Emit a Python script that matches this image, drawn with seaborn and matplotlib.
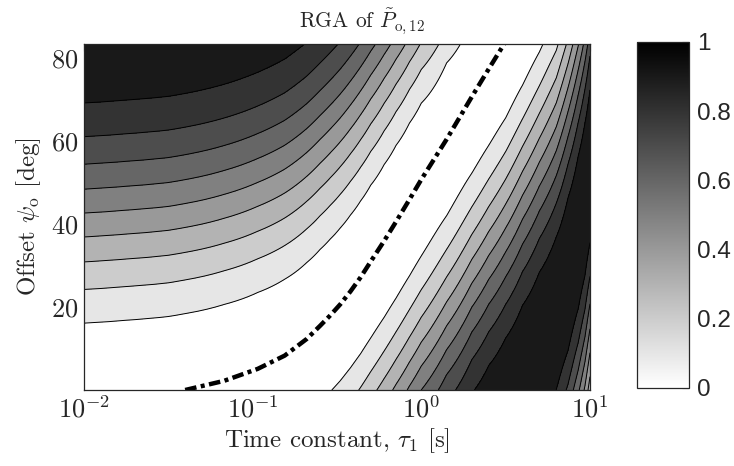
import numpy as np
import matplotlib
matplotlib.use("Agg")
import matplotlib.pyplot as plt
import seaborn as sns
from matplotlib.cm import ScalarMappable
from matplotlib.colors import Normalize

log_tau = [-2.0, -1.75, -1.5, -1.4, -1.17, -0.97, -0.81, -0.68, -0.6, -0.54,
           -0.48, -0.42, -0.36, -0.3, -0.22, -0.15, -0.07, 0.0, 0.15, 0.3,
           0.4, 0.5, 0.6, 0.7, 0.8, 0.87, 0.93, 0.97, 1.0]
# phase shift of the RGA pattern [deg]; the RGA is zero where psi_o = -shift
shift_deg = [2.3, 1.6, 0.7, 0.0, -2.2, -5.1, -8.3, -12.3, -15.5, -18.0,
             -20.7, -23.8, -27.2, -31.0, -36.0, -40.6, -46.0, -50.8, -60.5, -70.8,
             -77.5, -84.1, -92.0, -100.0, -108.5, -118.0, -128.0, -136.0, -144.0]
psi_max = 83.5
cbar_ticks = [0, 0.2, 0.4, 0.6, 0.8, 1]
cbar_labels = ["0", "0.2", "0.4", "0.6", "0.8", "1"]

tau = 10.0 ** np.array(log_tau)
shift = np.array(shift_deg)
psi = np.linspace(0, psi_max, 168)
rga = np.sin(np.radians(psi[:, None] + shift[None, :])) ** 2

sns.set_style("white")
plt.rcParams["font.family"] = ["cmr10", "DejaVu Serif"]
plt.rcParams["mathtext.fontset"] = "cm"
plt.rcParams["axes.formatter.use_mathtext"] = True
plt.rcParams["axes.unicode_minus"] = False

fig = plt.figure(figsize=(7.34, 4.66), dpi=100)
ax = fig.add_axes([0.1144, 0.1631, 0.6894, 0.7425])

levels = np.round(np.arange(0, 1.01, 0.1), 2)
fill_cols = [str(1 - l) for l in levels[:-1]]  # matlab style: band coloured by its lower level
ax.contourf(tau, psi, rga, levels=levels, colors=fill_cols)
ax.contour(tau, psi, rga, levels=levels[1:-1], colors="k", linewidths=0.7)

# zero-RGA line, only where the offset is non-negative
on = shift <= 0
sns.lineplot(x=tau[on], y=-shift[on], color="k", lw=3.2, ax=ax)
ax.lines[-1].set_dashes([2.6, 1.0, 0.9, 1.0])

ax.set_xscale("log")
ax.set_xlim(1e-2, 1e1)
ax.set_ylim(0, psi_max)
ax.set_yticks([20, 40, 60, 80])
ax.minorticks_off()
ax.tick_params(direction="in", top=True, right=True, length=5, width=0.8,
               color="0.15", labelsize=19, pad=4)
for s in ax.spines.values():
    s.set_color("0.15")
    s.set_linewidth(0.9)
    s.set_visible(True)

ax.set_title(r"RGA of $\tilde{P}_{\mathrm{o,12}}$", fontsize=15.5, pad=12, x=0.55)
ax.set_xlabel(r"Time constant, $\tau_1$ [s]", fontsize=18, labelpad=3)
ax.set_ylabel(r"Offset $\psi_{\mathrm{o}}$ [deg]", fontsize=18, labelpad=6)

cax = fig.add_axes([0.8678, 0.1674, 0.0708, 0.7425])
cb = fig.colorbar(ScalarMappable(norm=Normalize(0, 1), cmap="gray_r"), cax=cax)
cb.set_ticks(cbar_ticks)
cb.set_ticklabels(cbar_labels)
cb.outline.set_edgecolor("0.15")
cb.outline.set_linewidth(0.9)
cax.tick_params(direction="in", length=5, width=0.8, color="0.15", pad=6)
for t in cax.get_yticklabels():
    t.set_family(["Liberation Sans", "DejaVu Sans"])
    t.set_fontsize(17.5)

plt.savefig("out.png", dpi=100)
